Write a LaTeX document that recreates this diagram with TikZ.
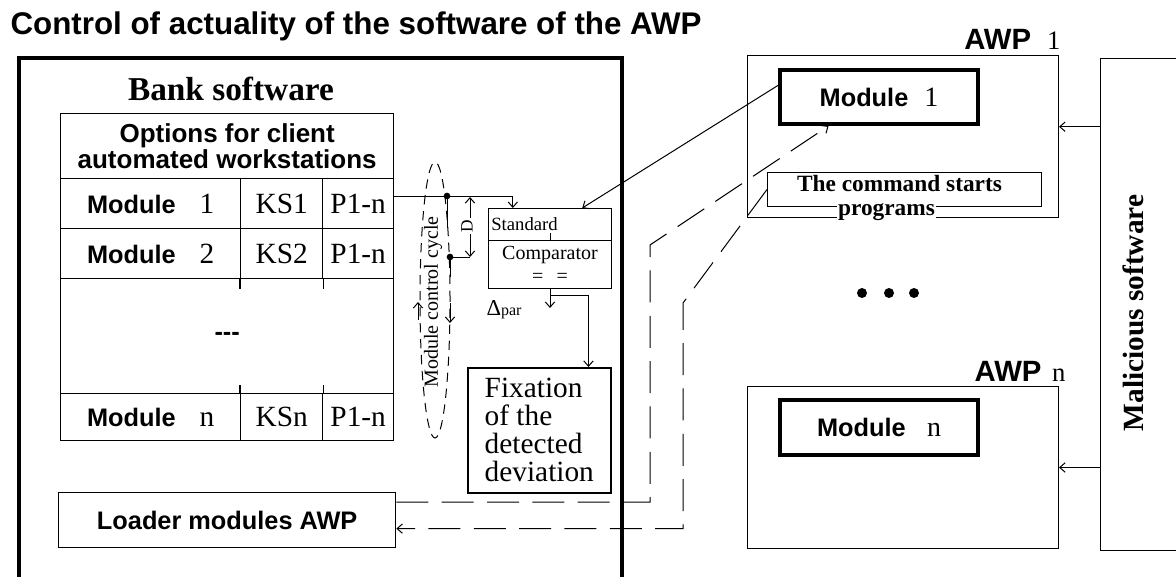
\documentclass[tikz,border=0pt]{standalone}
\usepackage{fontspec}
\setmainfont{Liberation Serif}
\setsansfont{Liberation Sans}
\usetikzlibrary{arrows.meta,calc,shapes.geometric}

\tikzset{every picture/.style={line width=0.75pt}}
\tikzset{
  box/.style={draw, inner sep=0pt, anchor=north west},
  cell/.style={box, line width=1pt},
  thickbox/.style={box, line width=3pt},
  arr/.style={-{Straight Barb[length=4pt,width=7pt]}},
  dsh/.style={dash pattern=on 24pt off 10pt},
  sfb/.style={font=\sffamily\bfseries\fontsize{19}{17}\selectfont},
  numtxt/.style={font=\fontsize{22}{22}\selectfont},
  dot/.style={circle, fill, inner sep=0pt, minimum size=5pt},
}

\begin{document}
\begin{tikzpicture}[x=0.75pt,y=0.75pt,yscale=-1,xscale=1]
\useasboundingbox (0,0) rectangle (1176,577);

% Text Node
\node[anchor=base west, inner sep=0pt, font=\sffamily\bfseries\fontsize{23.5}{23.5}\selectfont] (title) at (10,35) {Control of actuality of the software of the AWP};

%Shape: Rectangle
\node[thickbox, minimum width=452.25pt, minimum height=420pt] (bank) at (17,56) {};
% Text Node
\node[anchor=base, inner sep=0pt, font=\bfseries\fontsize{25}{25}\selectfont] (banklbl) at (231,101) {Bank software};

%Shape: Table
\node[cell, minimum width=249.75pt, minimum height=48.75pt, align=center, font=\sffamily\bfseries\fontsize{19.5}{17.5}\selectfont] (opt) at (60,113) {Options for client\\automated workstations};
\node[cell, minimum width=135pt, minimum height=37.5pt, font=\fontsize{19}{19}\selectfont] (m1) at (60,178) {\textsf{\textbf{Module}}\hspace{18pt}{\fontsize{22}{22}\selectfont 1}};
\node[cell, minimum width=61.5pt, minimum height=37.5pt, numtxt] (k1) at (240,178) {KS1};
\node[cell, minimum width=53.25pt, minimum height=37.5pt, numtxt] (p1) at (322,178) {P1-n};
\node[cell, minimum width=135pt, minimum height=37.5pt, font=\fontsize{19}{19}\selectfont] (m2) at (60,228) {\textsf{\textbf{Module}}\hspace{18pt}{\fontsize{22}{22}\selectfont 2}};
\node[cell, minimum width=61.5pt, minimum height=37.5pt, numtxt] (k2) at (240,228) {KS2};
\node[cell, minimum width=53.25pt, minimum height=37.5pt, numtxt] (p2) at (322,228) {P1-n};
\node[cell, minimum width=249.75pt, minimum height=86.25pt, sfb] (blank) at (60,278) {-{}-{}-};
\node[cell, minimum width=135pt, minimum height=35.25pt, font=\fontsize{19}{19}\selectfont] (mn) at (60,393) {\textsf{\textbf{Module}}\hspace{18pt}{\fontsize{22}{22}\selectfont n}};
\node[cell, minimum width=61.5pt, minimum height=35.25pt, numtxt] (kn) at (240,393) {KSn};
\node[cell, minimum width=53.25pt, minimum height=35.25pt, numtxt] (pn) at (322,393) {P1-n};
\draw[line width=1pt] (k2.south west) -- ++(0,10);
\draw[line width=1pt] (k2.south east) -- ++(0,10);
\draw[line width=1pt] (kn.north west) -- ++(0,-8);
\draw[line width=1pt] (kn.north east) -- ++(0,-8);

%Shape: Rectangle
\node[cell, minimum width=252.75pt, minimum height=41.25pt, sfb] (load) at (58,492) {Loader modules AWP};

%Shape: Rectangle
\node[box, minimum width=92.25pt, minimum height=24pt, align=left, text width=88pt, font=\fontsize{14}{14}\selectfont] (std) at (488,208) {Standard};
\node[box, minimum width=92.25pt, minimum height=36pt, align=center, font=\fontsize{15}{17}\selectfont] (cmp) at (488,240) {Comparator\\=\hspace{10pt}=};
\draw (std.south) -- ++(0,-8);
% Text Node
\node[anchor=west, inner sep=0pt] (dpar) at (486,310) {{\fontsize{17}{17}\selectfont Δ}{\fontsize{12}{12}\selectfont par}};

%Shape: Rectangle
\node[box, line width=1.2pt, minimum width=107.25pt, minimum height=93.75pt, align=left, font=\fontsize{22}{21}\selectfont] (fix) at (467,367) {Fixation\\of the\\detected\\deviation};

%Shape: Ellipse
\node[ellipse, draw, dash pattern=on 7pt off 5pt, minimum width=22.5pt, minimum height=207pt, inner sep=0pt] (cyc) at (435,300) {};
% Text Node
\node[rotate=90, inner sep=1pt, font=\fontsize{15}{15}\selectfont] (cyclbl) at (433,302) {Module control cycle};
\draw[arr] (418,320) -- (418,302);
\draw[arr] (450,303) -- (450,323);

%Straight Lines
\node[dot] (dA) at (447,196) {};
\node[dot] (dB) at (450,257) {};
\coordinate (Dtop) at (470,197);
\coordinate (Dbot) at (470,257);
\draw[arr] ($(p1.north east)!0.36!(p1.south east)$) -| ($(std.north west)!0.2!(std.north east)$);
\draw (dA.center) -- ++(0,32);
\draw (dB.center) -- (Dbot);
\draw (dB.center) -- ++(0,20);
\draw[{Straight Barb[length=4pt,width=7pt]}-{Straight Barb[length=4pt,width=7pt]}] (Dtop) -- (Dbot);
\node[rotate=90, fill=white, inner sep=1pt, font=\fontsize{13}{13}\selectfont] (Dlbl) at (467,226) {D};

%Straight Lines
\coordinate (cmpout) at ($(cmp.south)+(0,6)$);
\draw[arr] (cmp.south) -- ++(0,19);
\draw[arr] (cmpout) -| ($(fix.north west)!0.84!(fix.north east)$);

%Shape: Rectangle
\node[box, minimum width=233.25pt, minimum height=121.5pt] (awp1) at (747,55) {};
\node[anchor=south east, inner sep=0pt, font=\fontsize{22}{22}\selectfont] (awp1lbl) at ($(awp1.north east)+(2,-5)$) {\textsf{\textbf{AWP}}\hspace{12pt}{\fontsize{20}{20}\selectfont 1}};
\node[thickbox, minimum width=148.5pt, minimum height=40.5pt, font=\fontsize{19}{19}\selectfont] (mod1) at (778,68) {\textsf{\textbf{Module}}\hspace{12pt}{\fontsize{21}{21}\selectfont 1}};
\node[box, minimum width=205.5pt, minimum height=25.5pt] (cmd) at (767,172) {};
\node[anchor=north, inner sep=0pt, font=\bfseries\fontsize{17.5}{17.5}\selectfont] (cmdtxt) at ($(cmd.north)+(-5,3)$) {The command starts};
\node[fill=white, inner sep=0.5pt, font=\bfseries\fontsize{17.5}{17.5}\selectfont] (prg) at ($(cmd.south)+(-18,5)$) {programs};

%Shape: Rectangle
\node[box, minimum width=233.25pt, minimum height=121.5pt] (awpn) at (747,386) {};
\node[anchor=south east, inner sep=0pt, font=\fontsize{22}{22}\selectfont] (awpnlbl) at ($(awpn.north east)+(7,-4)$) {\textsf{\textbf{AWP}}\hspace{8pt}{\fontsize{20}{20}\selectfont n}};
\node[thickbox, minimum width=148.5pt, minimum height=41.25pt, font=\fontsize{19}{19}\selectfont] (modn) at (778,398) {\textsf{\textbf{Module}}\hspace{16pt}{\fontsize{21}{21}\selectfont n}};

% dots
\fill (862,293) circle (5);
\fill (889,293) circle (5);
\fill (914,293) circle (5);

%Shape: Rectangle
\node[box, minimum width=90pt, minimum height=369pt] (mal) at (1100,58) {};
\node[rotate=90, inner sep=0pt, font=\bfseries\fontsize{22}{22}\selectfont] (mallbl) at (1133,313) {Malicious software};
\coordinate (a1in) at ($(awp1.north east)!0.44!(awp1.south east)$);
\draw[arr] (mal.west |- a1in) -- (a1in);
\draw[arr] (mal.west |- awpn.east) -- (awpn.east);

%Straight Lines
\draw[arr] ($(mod1.north west)!0.3!(mod1.south west)$) -- ($(std.north west)!0.76!(std.north east)$);
\coordinate (bendA) at (650,245);
\coordinate (bendB) at (683,303);
\draw[dsh, arr] ($(load.north east)!0.18!(load.south east)$) -| (bendA) -- ($(mod1.south west)!0.25!(mod1.south east)$);
\draw[dsh, arr] (cmd.west) -- (bendB) |- ($(load.north east)!0.65!(load.south east)$);

\end{tikzpicture}
\end{document}
